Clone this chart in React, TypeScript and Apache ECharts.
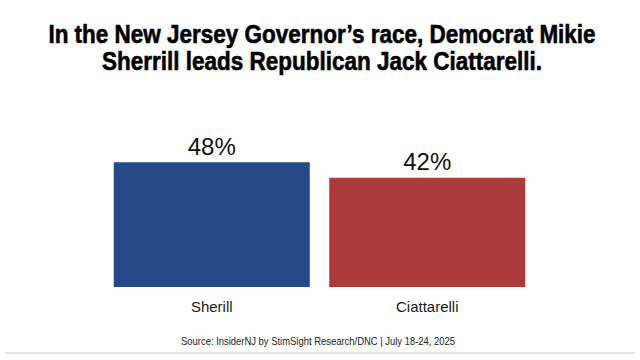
import React, { useEffect, useRef } from "react";
import * as echarts from "echarts";

const categories = ["Sherill", "Ciattarelli"];
const values = [48, 42];
const barColors = ["#264a89", "#ad3a3a"];
const titleLines = [
  "In the New Jersey Governor’s race, Democrat Mikie",
  "Sherrill leads Republican Jack Ciattarelli.",
];
const sourceText = "Source: InsiderNJ by StimSight Research/DNC | July 18-24, 2025";

export default function App() {
  const ref = useRef<HTMLDivElement>(null);
  useEffect(() => {
    if (!ref.current) return;
    const chart = echarts.init(ref.current, undefined, { renderer: "svg" });
    const titleFont = "bold 26px 'Liberation Sans', Arial, sans-serif";
    chart.setOption({
      animation: false,
      backgroundColor: "#ffffff",
      grid: { left: 104, right: 105, top: 131, bottom: 73 },
      xAxis: {
        type: "category",
        data: categories,
        axisLine: { show: false },
        axisTick: { show: false },
        axisLabel: {
          margin: 12,
          fontFamily: "Liberation Sans, Arial, sans-serif",
          fontSize: 15,
          color: "#1a1a1a",
        },
      },
      yAxis: {
        type: "value",
        min: 0,
        max: 60,
        show: false,
        splitLine: { show: false },
      },
      series: [
        {
          type: "bar",
          barWidth: 196,
          data: values.map((v, i) => ({ value: v, itemStyle: { color: barColors[i] } })),
          label: {
            show: true,
            position: "top",
            distance: 4,
            formatter: "{c}%",
            fontFamily: "Liberation Sans, Arial, sans-serif",
            fontSize: 24,
            color: "#111111",
          },
        },
      ],
      graphic: [
        {
          type: "text",
          x: 322,
          y: 21,
          scaleX: 0.865,
          style: {
            x: 0,
            y: 0,
            text: titleLines[0],
            font: titleFont,
            fill: "#000000",
            stroke: "#000000",
            lineWidth: 0.6,
            textAlign: "center",
          },
        },
        {
          type: "text",
          x: 322,
          y: 48,
          scaleX: 0.865,
          style: {
            x: 0,
            y: 0,
            text: titleLines[1],
            font: titleFont,
            fill: "#000000",
            stroke: "#000000",
            lineWidth: 0.6,
            textAlign: "center",
          },
        },
        {
          type: "text",
          x: 318,
          y: 336,
          scaleX: 0.9,
          style: {
            x: 0,
            y: 0,
            text: sourceText,
            font: "10.5px 'Liberation Sans', Arial, sans-serif",
            fill: "#222222",
            textAlign: "center",
          },
        },
        {
          type: "line",
          shape: { x1: 5, y1: 353, x2: 635, y2: 353 },
          style: { stroke: "#dddddd", lineWidth: 1.5 },
        },
      ],
    });
    return () => chart.dispose();
  }, []);
  return (
    <div
      ref={ref}
      style={{ position: "fixed", left: 0, top: 0, width: 640, height: 360 }}
    />
  );
}
